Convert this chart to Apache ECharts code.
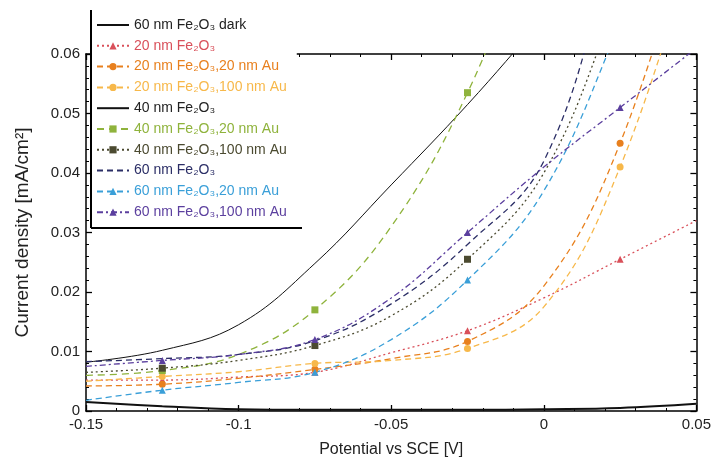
<!DOCTYPE html>
<html><head><meta charset="utf-8">
<script src="https://cdn.jsdelivr.net/npm/echarts@6/dist/echarts.min.js"></script>
<style>html,body{margin:0;padding:0;background:#fff}#c{width:714px;height:463px}</style>
</head><body><div id="c"></div>
<script>
// Potential vs SCE [V]
const potentials = [-0.15, -0.125, -0.1, -0.075, -0.05, -0.025, 0, 0.025, 0.05];
const xTicks = [-0.15, -0.1, -0.05, 0, 0.05];
const yTicks = [0, 0.01, 0.02, 0.03, 0.04, 0.05, 0.06];

const names = [
  '60 nm Fe₂O₃ dark',
  '20 nm Fe₂O₃',
  '20 nm Fe₂O₃,20 nm Au',
  '20 nm Fe₂O₃,100 nm Au',
  '40 nm Fe₂O₃',
  '40 nm Fe₂O₃,20 nm Au',
  '40 nm Fe₂O₃,100 nm Au',
  '60 nm Fe₂O₃',
  '60 nm Fe₂O₃,20 nm Au',
  '60 nm Fe₂O₃,100 nm Au'
];

// Current density [mA/cm²]
const dark60      = [0.0015, 0.0008, 0.0003, 0.0002, 0.0002, 0.0002, 0.0003, 0.0005, 0.0012];
const fe20        = [0.0052, 0.0052, 0.0057, 0.0065, 0.0098, 0.0135, 0.0190, 0.0255, 0.0320];
const fe20au20    = [0.0042, 0.0045, 0.0055, 0.0070, 0.0088, 0.0117, 0.0210, 0.0450, 0.0850];
const fe20au100   = [0.0050, 0.0058, 0.0066, 0.0080, 0.0085, 0.0105, 0.0175, 0.0410, 0.0800];
const fe40        = [0.0082, 0.0102, 0.0145, 0.0248, 0.0380, 0.0515, 0.0660, 0.0800, 0.0950];
const fe40au20    = [0.0060, 0.0068, 0.0095, 0.0170, 0.0310, 0.0535, 0.0850, 0.1100, 0.1300];
const fe40au100   = [0.0065, 0.0072, 0.0085, 0.0110, 0.0160, 0.0255, 0.0400, 0.0700, 0.1000];
const fe60        = [0.0083, 0.0088, 0.0095, 0.0118, 0.0180, 0.0280, 0.0420, 0.0800, 0.1100];
const fe60au20    = [0.0018, 0.0035, 0.0048, 0.0065, 0.0120, 0.0220, 0.0370, 0.0650, 0.0950];
const fe60au100   = [0.0075, 0.0085, 0.0095, 0.0120, 0.0190, 0.0300, 0.0410, 0.0510, 0.0610];

const values = [dark60, fe20, fe20au20, fe20au100, fe40, fe40au20, fe40au100, fe60, fe60au20, fe60au100];
const markerIdx = [1, 3, 5, 7];

const styles = [
  {color:'#111111', type:'solid',  width:2,   symbol:'none'},
  {color:'#d9505a', type:[2,3],    width:1.3, symbol:'triangle'},
  {color:'#e8801e', type:[6,4],    width:1.3, symbol:'circle'},
  {color:'#f7b84a', type:[6,4],    width:1.3, symbol:'circle'},
  {color:'#111111', type:'solid',  width:1,   symbol:'none'},
  {color:'#8fb33c', type:[7,5],    width:1.3, symbol:'rect'},
  {color:'#4b4a30', type:[2,3],    width:1.3, symbol:'rect'},
  {color:'#2b2e66', type:[6,4],    width:1.3, symbol:'none'},
  {color:'#3a9fd8', type:[6,4],    width:1.3, symbol:'triangle'},
  {color:'#5b3f9e', type:[6,3,2,3],width:1.3, symbol:'triangle'}
];

const series = names.map((n, k) => ({
  name: n,
  type: 'line',
  smooth: 0.4,
  clip: true,
  symbol: styles[k].symbol,
  symbolSize: 7,
  showSymbol: true,
  color: styles[k].color,
  lineStyle: {color: styles[k].color, type: styles[k].type, width: styles[k].width},
  itemStyle: {color: styles[k].color},
  data: potentials.map((x, i) => ({
    value: [x, values[k][i]],
    symbol: (styles[k].symbol !== 'none' && markerIdx.includes(i)) ? styles[k].symbol : 'none'
  }))
}));

const axisCommon = {
  axisLine: {show: true, onZero: false, lineStyle: {color: '#000', width: 1.5}},
  splitLine: {show: false},
  axisTick: {show: true, inside: true, length: 6, lineStyle: {color: '#000', width: 1.3}},
  minorTick: {show: true, splitNumber: 5, length: 3, lineStyle: {color: '#000'}},
};
const font = 'Liberation Sans';

const chart = echarts.init(document.getElementById('c'));
chart.setOption({
  backgroundColor: '#fff',
  animation: false,
  grid: {left: 86, right: 17, top: 54, bottom: 50},
  xAxis: [
    Object.assign({}, axisCommon, {
      type: 'value', min: xTicks[0], max: xTicks[xTicks.length - 1], interval: 0.05,
      position: 'bottom',
      name: 'Potential vs SCE [V]', nameLocation: 'middle', nameGap: 31,
      nameTextStyle: {fontFamily: font, fontSize: 16, color: '#222'},
      axisLabel: {fontFamily: font, fontSize: 15, color: '#222', margin: 6}
    }),
    Object.assign({}, axisCommon, {
      type: 'value', min: xTicks[0], max: xTicks[xTicks.length - 1], interval: 0.05,
      position: 'top', axisLabel: {show: false}
    })
  ],
  yAxis: [
    Object.assign({}, axisCommon, {
      type: 'value', min: yTicks[0], max: yTicks[yTicks.length - 1], interval: 0.01,
      position: 'left',
      name: 'Current density [mA/cm²]', nameLocation: 'middle', nameGap: 54,
      nameTextStyle: {fontFamily: font, fontSize: 19, color: '#222'},
      axisLabel: {fontFamily: font, fontSize: 15, color: '#222', margin: 6}
    }),
    Object.assign({}, axisCommon, {
      type: 'value', min: yTicks[0], max: yTicks[yTicks.length - 1], interval: 0.01,
      position: 'right', axisLabel: {show: false}
    })
  ],
  legend: {
    orient: 'vertical', left: 92, top: 12,
    itemWidth: 32, itemHeight: 9, itemGap: 6.8,
    backgroundColor: '#fff', padding: [6, 10, 6, 4],
    textStyle: {fontFamily: font, fontSize: 14},
    data: names.map((n, k) => ({
      name: n,
      textStyle: {color: k === 0 || k === 4 ? '#222' : styles[k].color},
      itemStyle: styles[k].symbol === 'none' ? {opacity: 0} : undefined
    }))
  },
  graphic: [
    {type: 'line', z: 100, shape: {x1: 91, y1: 10, x2: 91, y2: 228}, style: {stroke: '#000', lineWidth: 2}},
    {type: 'line', z: 100, shape: {x1: 91, y1: 228, x2: 302, y2: 228}, style: {stroke: '#000', lineWidth: 2}}
  ],
  series: series
});
</script></body></html>
